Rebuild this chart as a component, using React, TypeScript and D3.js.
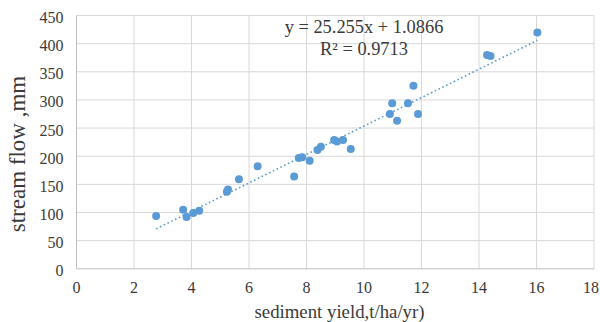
import * as d3 from "d3";

// sediment yield (t/ha/yr) and stream flow (mm)
const sedimentYield = [
  2.77, 3.71, 3.83, 4.06, 4.27, 5.23, 5.27, 5.65, 6.3, 7.57, 7.73, 7.85, 8.11, 8.38,
  8.5, 8.96, 9.06, 9.27, 9.54, 10.9, 10.98, 11.15, 11.53, 11.72, 11.88, 14.28, 14.4, 16.03,
];
const streamFlow = [
  94, 105, 92, 99, 103, 137, 141, 159, 182, 164, 197, 198, 192, 211,
  217, 229, 226, 229, 213, 275, 294, 263, 294, 325, 275, 380, 378, 420,
];

const xTicks = [0, 2, 4, 6, 8, 10, 12, 14, 16, 18];
const yTicks = [0, 50, 100, 150, 200, 250, 300, 350, 400, 450];

// trendline from the printed equation
const slope = 25.255;
const intercept = 1.0866;
const eqLabel = "y = 25.255x + 1.0866";
const r2Label = "R² = 0.9713";

const W = 600;
const H = 322;
const serif = "'Liberation Serif', 'Times New Roman', serif";
const blue = "#5b9bd5";
const ink = "#3a3a3a";

export default function App() {
  const x = d3.scaleLinear().domain([0, 18]).range([76.5, 594]);
  const y = d3.scaleLinear().domain([0, 450]).range([268.8, 15.5]);

  const xMin = d3.min(sedimentYield) as number;
  const xMax = d3.max(sedimentYield) as number;
  const trend = d3
    .line<number>()
    .x((d) => x(d))
    .y((d) => y(slope * d + intercept))([xMin, xMax]);

  return (
    <svg
      width={W}
      height={H}
      style={{ position: "absolute", left: 0, top: 0, background: "#fff" }}
      fontFamily={serif}
    >
      {/* grid */}
      {xTicks.slice(1).map((t) => (
        <line key={"gx" + t} x1={x(t)} x2={x(t)} y1={y(0)} y2={y(450)} stroke="#d9d9d9" />
      ))}
      {yTicks.slice(1).map((t) => (
        <line key={"gy" + t} x1={x(0)} x2={x(18)} y1={y(t)} y2={y(t)} stroke="#d9d9d9" />
      ))}
      {/* axes */}
      <line x1={x(0)} x2={x(0)} y1={y(0)} y2={y(450)} stroke="#bfbfbf" />
      <line x1={x(0)} x2={x(18)} y1={y(0)} y2={y(0)} stroke="#bfbfbf" />

      {yTicks.map((t) => (
        <text key={"ty" + t} x={63.5} y={y(t) + 7.5} textAnchor="end" fontSize={16} fill={ink}>
          {t}
        </text>
      ))}
      {xTicks.map((t) => (
        // last label is kept inside the 600px frame
        <text key={"tx" + t} x={Math.min(x(t), W - 9)} y={293} textAnchor="middle" fontSize={16} fill={ink}>
          {t}
        </text>
      ))}

      {/* trendline */}
      <path d={trend ?? ""} fill="none" stroke={blue} strokeWidth={1.6} strokeDasharray="1.6 2.6" />

      {/* points */}
      {sedimentYield.map((v, i) => (
        <circle key={i} cx={x(v)} cy={y(streamFlow[i])} r={4} fill={blue} />
      ))}

      <text x={364} y={33} textAnchor="middle" fontSize={18.4} fill={ink}>
        {eqLabel}
      </text>
      <text x={364} y={55} textAnchor="middle" fontSize={18.4} fill={ink}>
        {r2Label}
      </text>

      <text x={339.5} y={318} textAnchor="middle" fontSize={18.8} fill={ink}>
        sediment yield,t/ha/yr)
      </text>
      <text
        transform={`translate(24.5,154) rotate(-90)`}
        textAnchor="middle"
        fontSize={23}
        fill={ink}
      >
        stream flow ,mm
      </text>
    </svg>
  );
}
